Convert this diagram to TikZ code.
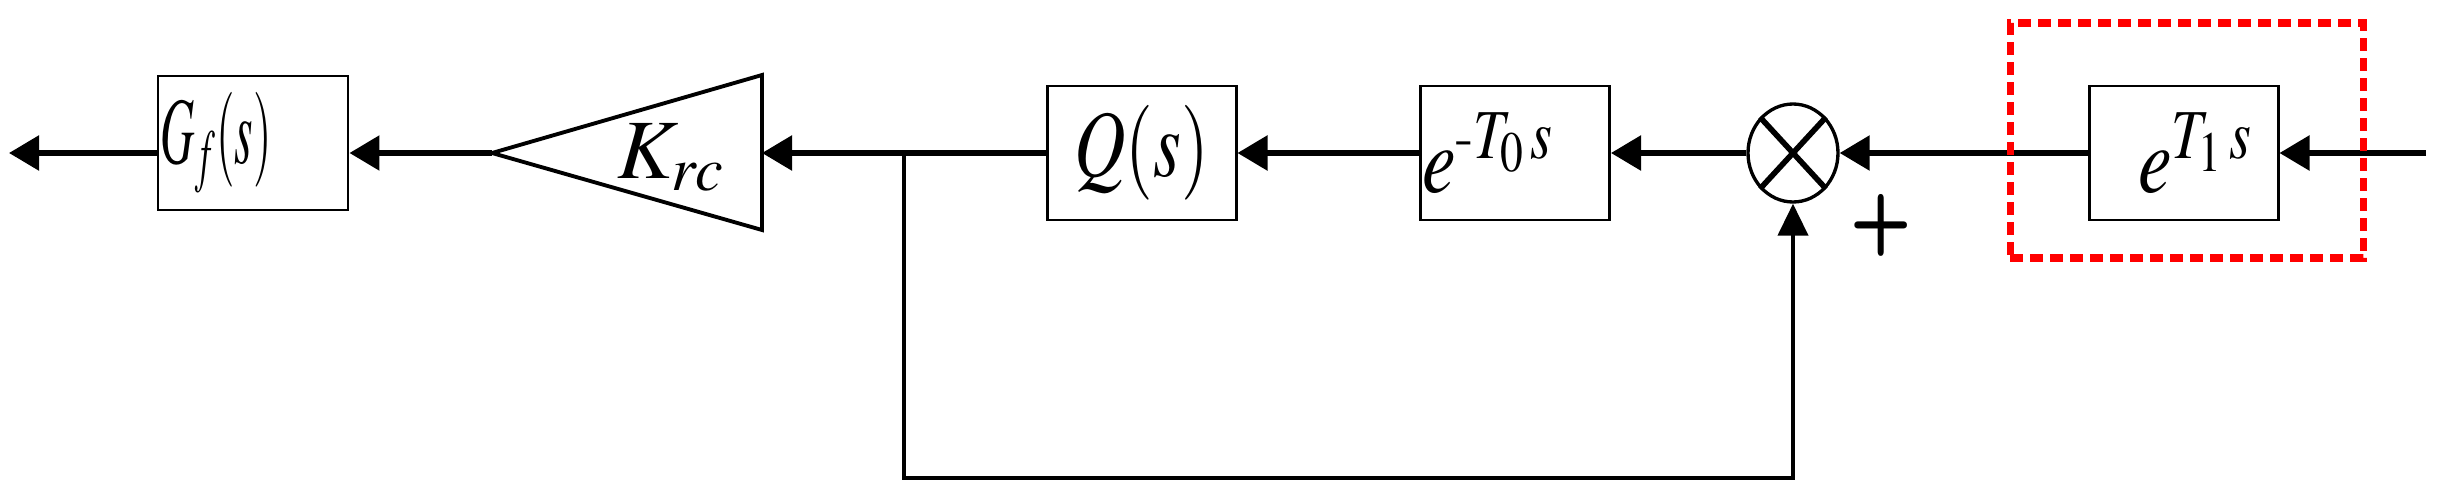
\documentclass[tikz,border=0pt]{standalone}
\usepackage{amsmath}
\usepackage{mathptmx}
\usepackage{graphicx}
\usetikzlibrary{arrows.meta,positioning,shapes.geometric}

\begin{document}
\begin{tikzpicture}[>={Triangle[length=0.30cm,width=0.34cm]}]
    \tikzset{blk/.style={rectangle, draw, line width=0.85pt, minimum width=1.89cm, minimum height=1.34cm, inner sep=0pt, font=\fontsize{27}{27}\selectfont},
      lblk/.style={blk, text width=1.85cm, inner xsep=0.02cm, align=left},
      sig/.style={->, line width=1.6pt},
      fb/.style={->, line width=1.2pt, >={Triangle[length=0.32cm,width=0.30cm]}},
      junc/.style={ellipse, draw, line width=0.95pt, minimum width=0.90cm, minimum height=0.98cm, inner sep=0pt},
      hilite/.style={rectangle, draw=red, line width=2pt, dash pattern=on 0.13cm off 0.07cm, minimum width=3.53cm, minimum height=2.35cm}}
    \useasboundingbox (0,-3.46) rectangle (24.38,1.53);
    % blocks, right to left
    \node[lblk] (ts) at (21.835,0) {\hspace*{0.47cm}\scalebox{0.8}[1]{$e^{T_{1}\,s}$}};
    \node[junc] (sumj) at (17.93,0) {};
    \node[lblk] (tz) at (15.15,0) {\scalebox{0.8}[1]{$e^{\text{-}T_{0}\,s}$}};
    \node[blk] (q) at (11.415,0) {\scalebox{0.75}[1]{$Q(s)$}};
    \node[anchor=base, font=\fontsize{24}{24}\selectfont] (krc) at (6.71,-0.25) {$K_{rc}$};
    \node[lblk, inner xsep=0.03cm, text width=1.84cm] (gf) at (2.53,0.1) {\scalebox{0.5}[1]{$G_{f}(s)$}};
    \node[font=\fontsize{24}{24}\selectfont\bfseries\sffamily] (plus) at (18.81,-0.72) {\scalebox{0.85}[1]{+}};
    \coordinate (in) at (24.26,0);
    \coordinate (out) at (0.09,0);
    \coordinate (br) at (9.04,0);
    \coordinate (krcapex) at (4.92,0);
    \coordinate (krcin) at (7.62,0);
    % gain triangle and summing cross
    \draw[line width=1.1pt] (krcapex) -- ([yshift=0.78cm]krcin) -- ([yshift=-0.77cm]krcin) -- cycle;
    \draw[line width=1.6pt] (sumj.north west) -- (sumj.south east) (sumj.north east) -- (sumj.south west);
    % signal path
    \draw[sig] (in) -- (ts.east);
    \draw[sig] (ts.west) -- (sumj.east);
    \draw[sig] (sumj.west) -- (tz.east);
    \draw[sig] (tz.west) -- (q.east);
    \draw[sig] (q.west) -- (krcin);
    \draw[sig] (krcapex) -- (gf.east |- krcapex);
    \draw[sig] (gf.west |- out) -- (out);
    \draw[fb] (br) -- ++(0,-3.25) -| (sumj.south);
    \node[hilite] (hl) at (21.865,0.125) {};
\end{tikzpicture}
\end{document}
